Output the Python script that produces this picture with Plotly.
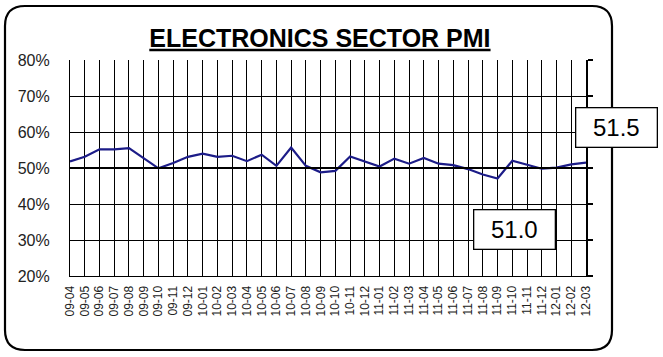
import plotly.graph_objects as go

# ---- data ----
months = ["09-04", "09-05", "09-06", "09-07", "09-08", "09-09", "09-10", "09-11", "09-12",
          "10-01", "10-02", "10-03", "10-04", "10-05", "10-06", "10-07", "10-08", "10-09",
          "10-10", "10-11", "10-12",
          "11-01", "11-02", "11-03", "11-04", "11-05", "11-06", "11-07", "11-08", "11-09",
          "11-10", "11-11", "11-12",
          "12-01", "12-02", "12-03"]
pmi = [51.8, 53.1, 55.2, 55.2, 55.5, 52.7, 49.9, 51.4, 53.1,
       54.0, 53.1, 53.4, 51.9, 53.7, 50.6, 55.7, 50.6, 48.8,
       49.2, 53.2, 51.8,
       50.4, 52.6, 51.2, 52.8, 51.2, 50.8, 49.7, 48.2, 47.1,
       52.0, 50.9, 49.8,
       50.1, 51.0, 51.5]
y_ticks = [20, 30, 40, 50, 60, 70, 80]
y_tick_labels = [f"{v}%" for v in y_ticks]
THRESHOLD = 50
title_text = "ELECTRONICS SECTOR PMI"

# ---- layout geometry (pixels) ----
W, H = 663, 357
L, R, T, B = 70, 586, 60, 276
pw, ph = R - L, B - T

def px(x):
    return (x - L) / pw

def py(y):
    return (B - y) / ph

fig = go.Figure()
fig.add_trace(go.Scatter(
    x=months, y=pmi, mode="lines",
    line=dict(color="#1c1c88", width=2.2),
    hoverinfo="x+y", showlegend=False,
))
# empty trace so the right-hand axis is drawn
fig.add_trace(go.Scatter(x=[months[0]], y=[None], yaxis="y2", mode="lines",
                         showlegend=False, hoverinfo="skip"))

axis_font = dict(family="Liberation Sans, Arial, sans-serif", color="#222222")

fig.update_layout(
    width=W, height=H,
    margin=dict(l=L, r=W - R, t=T, b=H - B, pad=0),
    paper_bgcolor="white", plot_bgcolor="white",
    xaxis=dict(
        type="category", range=[0, len(months) - 1],
        showgrid=True, gridcolor="black", gridwidth=1.2,
        tickangle=-90, tickfont=dict(size=12, **axis_font),
        ticks="", showline=True, linecolor="black", linewidth=1,
        ticklabelstandoff=4,
    ),
    yaxis=dict(
        range=[y_ticks[0], y_ticks[-1]], tickvals=y_ticks, ticktext=y_tick_labels,
        showgrid=True, gridcolor="black", gridwidth=1.2,
        tickfont=dict(size=16, **axis_font), ticks="",
        showline=True, linecolor="black", linewidth=1.2,
        ticklabelstandoff=16, zeroline=False,
    ),
    yaxis2=dict(
        overlaying="y", side="right", anchor="x",
        range=[y_ticks[0], y_ticks[-1]], tickvals=y_ticks,
        showticklabels=False, showgrid=False, zeroline=False,
        showline=True, linecolor="black", linewidth=2.2,
        ticks="outside", ticklen=5, tickwidth=1.5, tickcolor="black",
    ),
    title=dict(
        text=f"<b><u>{title_text}</u></b>",
        x=px(319), xanchor="center", y=1 - 38 / H, yanchor="middle",
        font=dict(family="Liberation Sans, Arial, sans-serif", size=25, color="black"),
    ),
)

# threshold line (50%)
fig.add_shape(type="line", xref="x domain", yref="y",
              x0=0, x1=1, y0=THRESHOLD, y1=THRESHOLD,
              line=dict(color="black", width=2.2))

# rounded outer frame
x0, x1 = px(5), px(612)
y0, y1 = py(350), py(6)
rx, ry = 20 / pw, 20 / ph
path = (f"M {x0 + rx},{y1} L {x1 - rx},{y1} Q {x1},{y1} {x1},{y1 - ry} "
        f"L {x1},{y0 + ry} Q {x1},{y0} {x1 - rx},{y0} "
        f"L {x0 + rx},{y0} Q {x0},{y0} {x0},{y0 + ry} "
        f"L {x0},{y1 - ry} Q {x0},{y1} {x0 + rx},{y1} Z")
fig.add_shape(type="path", xref="paper", yref="paper", path=path,
              line=dict(color="black", width=2.2), layer="below")

box_font = dict(family="Liberation Sans, Arial, sans-serif", size=24, color="black")
# latest value box
fig.add_annotation(xref="paper", yref="paper", x=px(616), y=py(127),
                   xanchor="center", yanchor="middle",
                   text=f"{pmi[-1]:.1f}", showarrow=False, font=box_font,
                   bgcolor="white", bordercolor="black", borderwidth=1.3,
                   width=76, height=34, borderpad=2)
# previous value box
fig.add_annotation(xref="paper", yref="paper", x=px(514), y=py(229),
                   xanchor="center", yanchor="middle",
                   text=f"{pmi[-2]:.1f}", showarrow=False, font=box_font,
                   bgcolor="white", bordercolor="black", borderwidth=1.3,
                   width=76, height=34, borderpad=2)

fig.write_html("out.html")
